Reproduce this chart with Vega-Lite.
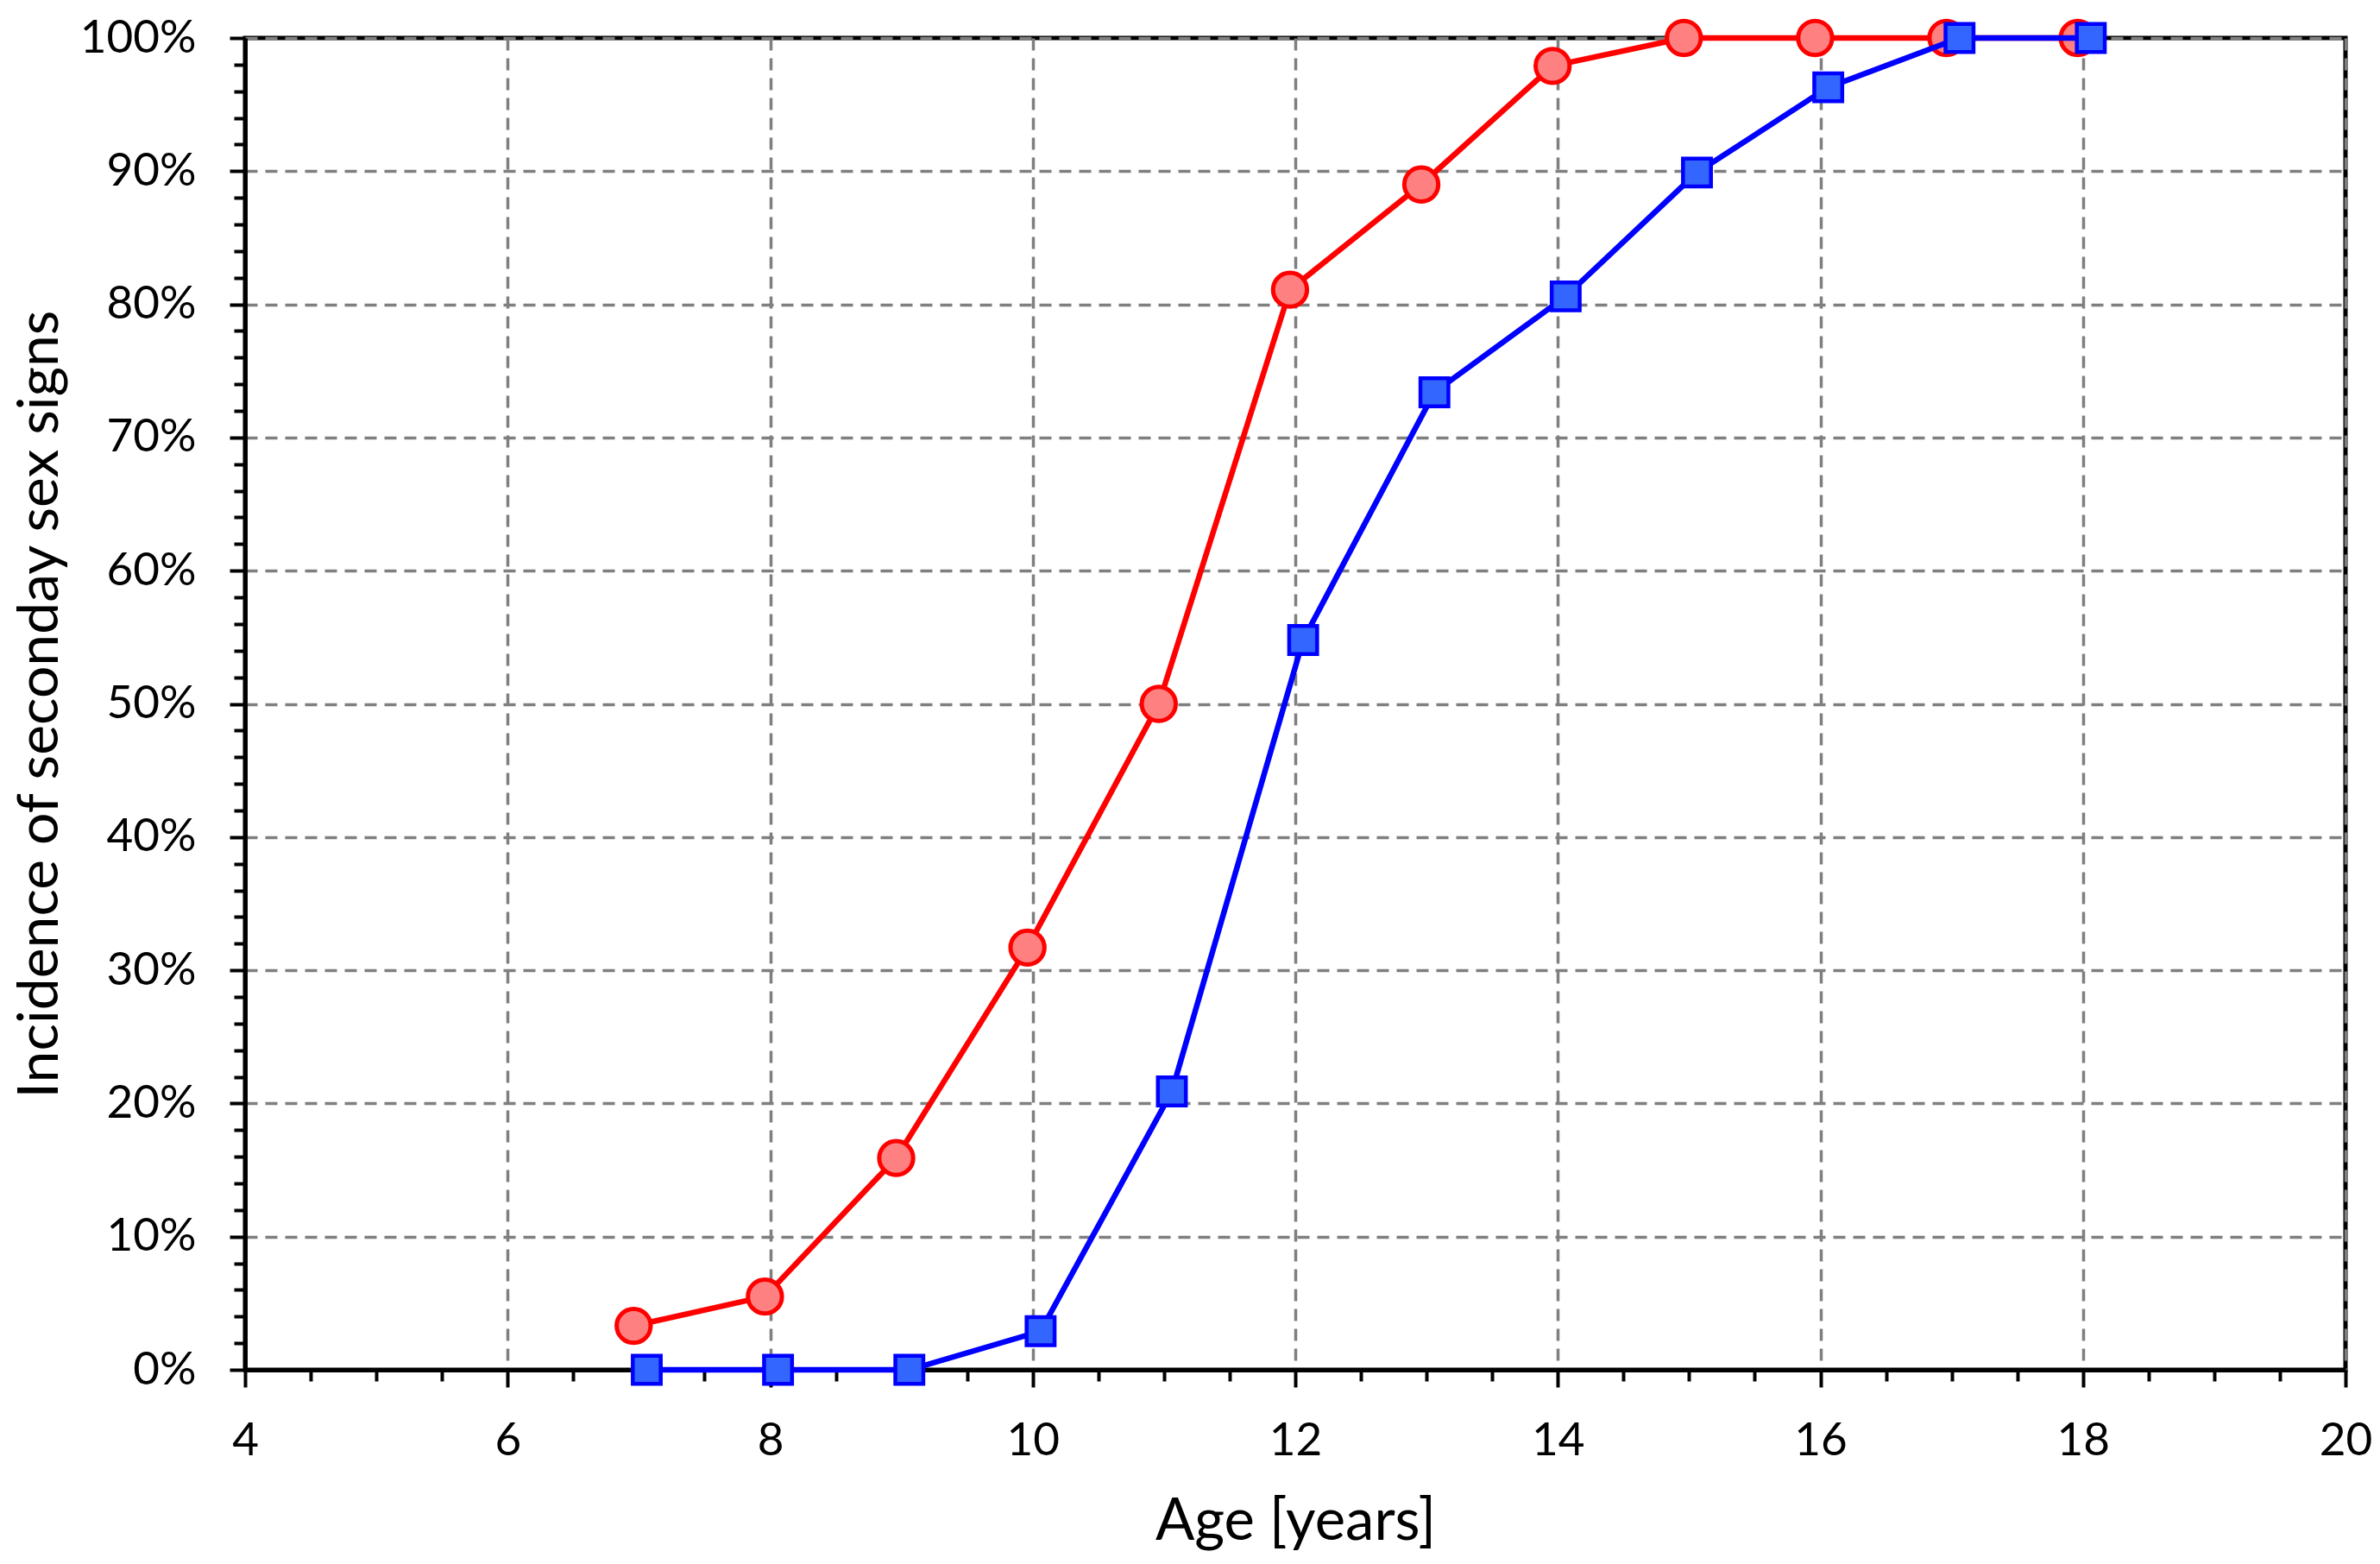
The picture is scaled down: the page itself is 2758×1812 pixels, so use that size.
{
  "$schema": "https://vega.github.io/schema/vega-lite/v6.json",
  "width": 2434,
  "height": 1543,
  "autosize": {"type": "none"},
  "padding": {"left": 284, "top": 44, "right": 40, "bottom": 225},
  "background": "white",
  "config": {
    "view": {"stroke": "black", "strokeWidth": 5},
    "font": "Lato",
    "axis": {
      "domainColor": "black",
      "domainWidth": 5,
      "tickColor": "black",
      "tickWidth": 4,
      "gridColor": "#7f7f7f",
      "gridWidth": 3.5,
      "gridDash": [14, 9],
      "labelColor": "black",
      "labelFont": "Lato",
      "labelFontSize": 53,
      "labelOverlap": false,
      "labelBound": false,
      "labelFlush": false,
      "titleColor": "black",
      "titleFont": "Lato",
      "titleFontWeight": "normal",
      "titleFontSize": 67
    }
  },
  "data": {
    "values": [
      {"group": "girls", "age": 6.96, "pct": 3.3},
      {"group": "girls", "age": 7.96, "pct": 5.5},
      {"group": "girls", "age": 8.96, "pct": 15.9},
      {"group": "girls", "age": 9.96, "pct": 31.7},
      {"group": "girls", "age": 10.96, "pct": 50.0},
      {"group": "girls", "age": 11.96, "pct": 81.1},
      {"group": "girls", "age": 12.96, "pct": 89.0},
      {"group": "girls", "age": 13.96, "pct": 97.9},
      {"group": "girls", "age": 14.96, "pct": 100},
      {"group": "girls", "age": 15.96, "pct": 100},
      {"group": "girls", "age": 16.96, "pct": 100},
      {"group": "girls", "age": 17.96, "pct": 100},
      {"group": "boys", "age": 7.06, "pct": 0},
      {"group": "boys", "age": 8.06, "pct": 0},
      {"group": "boys", "age": 9.06, "pct": 0},
      {"group": "boys", "age": 10.06, "pct": 2.9},
      {"group": "boys", "age": 11.06, "pct": 20.9},
      {"group": "boys", "age": 12.06, "pct": 54.8},
      {"group": "boys", "age": 13.06, "pct": 73.4},
      {"group": "boys", "age": 14.06, "pct": 80.6},
      {"group": "boys", "age": 15.06, "pct": 89.9},
      {"group": "boys", "age": 16.06, "pct": 96.3},
      {"group": "boys", "age": 17.06, "pct": 100},
      {"group": "boys", "age": 18.06, "pct": 100}
    ]
  },
  "encoding": {
    "x": {
      "field": "age",
      "type": "quantitative",
      "scale": {"domain": [4, 20], "nice": false, "zero": false},
      "axis": {
        "title": "Age [years]",
        "values": [4, 4.5, 5, 5.5, 6, 6.5, 7, 7.5, 8, 8.5, 9, 9.5, 10, 10.5, 11, 11.5, 12, 12.5, 13, 13.5, 14, 14.5, 15, 15.5, 16, 16.5, 17, 17.5, 18, 18.5, 19, 19.5, 20],
        "labelExpr": "datum.value % 2 === 0 ? '' + datum.value : ''",
        "tickSize": {"condition": {"test": "datum.value % 2 === 0", "value": 20}, "value": 13},
        "gridOpacity": {"condition": {"test": "datum.value % 2 === 0", "value": 1}, "value": 0},
        "labelBaseline": "alphabetic",
        "labelPadding": 78,
        "titleBaseline": "alphabetic",
        "titleY": 196
      }
    },
    "y": {
      "field": "pct",
      "type": "quantitative",
      "scale": {"domain": [0, 100], "nice": false},
      "axis": {
        "title": "Incidence of seconday sex signs",
        "values": [0, 2, 4, 6, 8, 10, 12, 14, 16, 18, 20, 22, 24, 26, 28, 30, 32, 34, 36, 38, 40, 42, 44, 46, 48, 50, 52, 54, 56, 58, 60, 62, 64, 66, 68, 70, 72, 74, 76, 78, 80, 82, 84, 86, 88, 90, 92, 94, 96, 98, 100],
        "labelExpr": "datum.value % 10 === 0 ? datum.value + '%' : ''",
        "tickSize": {"condition": {"test": "datum.value % 10 === 0", "value": 18}, "value": 13},
        "gridOpacity": {"condition": {"test": "datum.value % 10 === 0", "value": 1}, "value": 0},
        "labelPadding": 39,
        "titleBaseline": "alphabetic",
        "titleFontSize": 66,
        "titleX": -218
      }
    }
  },
  "layer": [
    {
      "transform": [{"filter": "datum.group === 'girls'"}],
      "mark": {
        "type": "line",
        "stroke": "#FF0000",
        "strokeWidth": 6.5,
        "point": {"shape": "circle", "size": 1550, "filled": true, "fill": "#FF8080", "stroke": "#FF0000", "strokeWidth": 5, "opacity": 1}
      }
    },
    {
      "transform": [{"filter": "datum.group === 'boys'"}],
      "mark": {
        "type": "line",
        "stroke": "#0000FF",
        "strokeWidth": 6.5,
        "point": {"shape": "square", "size": 1050, "filled": true, "fill": "#3366FF", "stroke": "#0000FF", "strokeWidth": 4.5, "opacity": 1}
      }
    }
  ]
}
